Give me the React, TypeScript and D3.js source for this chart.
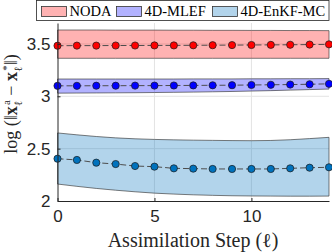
import { useRef, useEffect } from 'react'
import * as d3 from 'd3'

const steps = [0, 1, 2, 3, 4, 5, 6, 7, 8, 9, 10, 11, 12, 13, 14]

const nodaMean = [3.483, 3.484, 3.484, 3.485, 3.485, 3.486, 3.486, 3.487, 3.488, 3.489, 3.490, 3.491, 3.492, 3.494, 3.496]
const nodaUpper = [3.633, 3.633, 3.633, 3.632, 3.632, 3.632, 3.631, 3.631, 3.630, 3.630, 3.629, 3.629, 3.628, 3.628, 3.627]
const nodaLower = [3.363, 3.363, 3.363, 3.363, 3.363, 3.363, 3.363, 3.363, 3.363, 3.363, 3.363, 3.363, 3.363, 3.363, 3.363]

const mlefMean = [3.100, 3.100, 3.101, 3.101, 3.102, 3.102, 3.103, 3.104, 3.105, 3.106, 3.108, 3.110, 3.112, 3.115, 3.119]
const mlefUpper = [3.165, 3.165, 3.165, 3.165, 3.165, 3.165, 3.165, 3.166, 3.166, 3.166, 3.167, 3.167, 3.168, 3.168, 3.169]
const mlefLower = [3.030, 3.031, 3.032, 3.033, 3.034, 3.036, 3.038, 3.040, 3.043, 3.046, 3.050, 3.054, 3.059, 3.064, 3.069]

const enkfMean = [2.404, 2.392, 2.366, 2.353, 2.334, 2.328, 2.312, 2.309, 2.306, 2.306, 2.306, 2.306, 2.312, 2.318, 2.322]
const enkfUpper = [2.650, 2.632, 2.616, 2.603, 2.594, 2.588, 2.584, 2.581, 2.579, 2.577, 2.576, 2.578, 2.585, 2.596, 2.608]
const enkfLower = [2.162, 2.140, 2.120, 2.103, 2.088, 2.075, 2.066, 2.059, 2.054, 2.050, 2.048, 2.047, 2.046, 2.046, 2.047]

const xTicks = [0, 5, 10]
const yTicks = [2, 2.5, 3, 3.5]
const legendNames = ['NODA', '4D-MLEF', '4D-EnKF-MC']

const series = [
  { name: 'NODA', mean: nodaMean, upper: nodaUpper, lower: nodaLower, color: '#ff0000' },
  { name: '4D-MLEF', mean: mlefMean, upper: mlefUpper, lower: mlefLower, color: '#0000ff' },
  { name: '4D-EnKF-MC', mean: enkfMean, upper: enkfUpper, lower: enkfLower, color: '#0072bd' }
]

const App = () => {
  const ref = useRef<SVGSVGElement>(null)

  useEffect(() => {
    const totalWidth = 332,
      totalHeight = 252

    const svg = d3.select(ref.current)
    svg.attr('width', totalWidth).attr('height', totalHeight)
    svg.selectAll('*').remove()

    const x = d3.scaleLinear().domain([0, 14]).range([57.5, 329])
    const y = d3.scaleLinear().domain([2, 3.7]).range([201, 23])

    const serif = 'Liberation Serif, DejaVu Serif, serif'
    const sans = 'Liberation Sans, Arial, sans-serif'

    // grid
    const grid = svg.append('g').attr('stroke', '#e3e3e3').attr('stroke-width', 1)
    xTicks.filter(t => t > 0).forEach(t => {
      grid.append('line').attr('x1', x(t)).attr('x2', x(t)).attr('y1', y(2)).attr('y2', y(3.7))
    })
    yTicks.filter(t => t > 2).forEach(t => {
      grid.append('line').attr('x1', x(0)).attr('x2', x(14)).attr('y1', y(t)).attr('y2', y(t))
    })

    // bands
    series.forEach(s => {
      const area = d3.area<number>()
        .x((d, i) => x(steps[i]))
        .y0((d, i) => y(s.lower[i]))
        .y1((d, i) => y(s.upper[i]))
      svg.append('path')
        .datum(s.mean)
        .attr('d', area)
        .attr('fill', s.color)
        .attr('fill-opacity', 0.3)
        .attr('stroke', '#333')
        .attr('stroke-opacity', 0.8)
        .attr('stroke-width', 0.8)
    })

    // mean lines with markers
    series.forEach(s => {
      svg.append('path')
        .datum(s.mean)
        .attr('d', d3.line<number>().x((d, i) => x(steps[i])).y(d => y(d)))
        .attr('fill', 'none')
        .attr('stroke', '#4d4d4d')
        .attr('stroke-width', 1)
        .attr('stroke-dasharray', '6,3')
      svg.append('g')
        .selectAll('circle')
        .data(s.mean)
        .enter()
        .append('circle')
          .attr('cx', (d, i) => x(steps[i]))
          .attr('cy', d => y(d))
          .attr('r', 3.6)
          .attr('fill', s.color)
          .attr('stroke', '#1a1a1a')
          .attr('stroke-width', 0.7)
    })

    // axes
    const axisColor = '#262626'
    const xAxis = svg.append('g')
      .attr('transform', `translate(0, ${y(2)})`)
      .call(d3.axisBottom(x).tickValues(xTicks).tickSizeInner(-3).tickSizeOuter(0).tickPadding(9).tickFormat(d3.format('d')))
    xAxis.select('.domain').attr('stroke', axisColor)
    xAxis.selectAll('line').attr('stroke', axisColor)
    xAxis.selectAll('text').attr('font-family', sans).attr('font-size', 17).attr('fill', axisColor)

    const yAxis = svg.append('g')
      .attr('transform', `translate(${x(0)}, 0)`)
      .call(d3.axisLeft(y).tickValues(yTicks).tickSizeInner(-3).tickSizeOuter(0).tickPadding(7).tickFormat(d3.format('~g')))
    yAxis.select('.domain').attr('stroke', axisColor)
    yAxis.selectAll('line').attr('stroke', axisColor)
    yAxis.selectAll('text').attr('font-family', sans).attr('font-size', 17).attr('fill', axisColor)

    // x label
    svg.append('text')
      .attr('x', 193)
      .attr('y', 247)
      .attr('text-anchor', 'middle')
      .attr('font-family', serif)
      .attr('font-size', 20)
      .attr('fill', axisColor)
      .text('Assimilation Step (ℓ)')

    // y label
    const yl = svg.append('text')
      .attr('transform', 'translate(17, 104) rotate(-90)')
      .attr('text-anchor', 'middle')
      .attr('font-family', serif)
      .attr('font-size', 18)
      .attr('fill', axisColor)
    yl.append('tspan').text('log (‖')
    yl.append('tspan').attr('font-weight', 'bold').text('x')
    yl.append('tspan').attr('font-size', 11).attr('dy', 5).text('ℓ')
    yl.append('tspan').attr('font-size', 11).attr('dx', -4).attr('dy', -12).text('a')
    yl.append('tspan').attr('dy', 7).text(' − ')
    yl.append('tspan').attr('font-weight', 'bold').text('x')
    yl.append('tspan').attr('font-size', 11).attr('dy', 5).text('ℓ')
    yl.append('tspan').attr('font-size', 11).attr('dx', -4).attr('dy', -12).text('*')
    yl.append('tspan').attr('dy', 7).text('‖)')

    // legend
    const legend = svg.append('g')
    legend.append('rect')
      .attr('x', 36.5).attr('y', 0.5).attr('width', 292.5).attr('height', 20)
      .attr('fill', '#fff').attr('stroke', '#262626').attr('stroke-width', 0.8)
    const swatchX = [41.5, 116.5, 212.5]
    legendNames.forEach((name, i) => {
      legend.append('rect')
        .attr('x', swatchX[i]).attr('y', 6.5).attr('width', 25).attr('height', 10)
        .attr('fill', series[i].color).attr('fill-opacity', 0.3)
        .attr('stroke', '#333').attr('stroke-width', 0.8)
      legend.append('text')
        .attr('x', swatchX[i] + 28).attr('y', 16)
        .attr('font-family', serif).attr('font-size', 14.5).attr('fill', '#000')
        .text(name)
    })
  }, [])

  return (
    <svg ref={ref} style={{ position: 'absolute', left: 0, top: 0 }}></svg>
  )
}

export default App
